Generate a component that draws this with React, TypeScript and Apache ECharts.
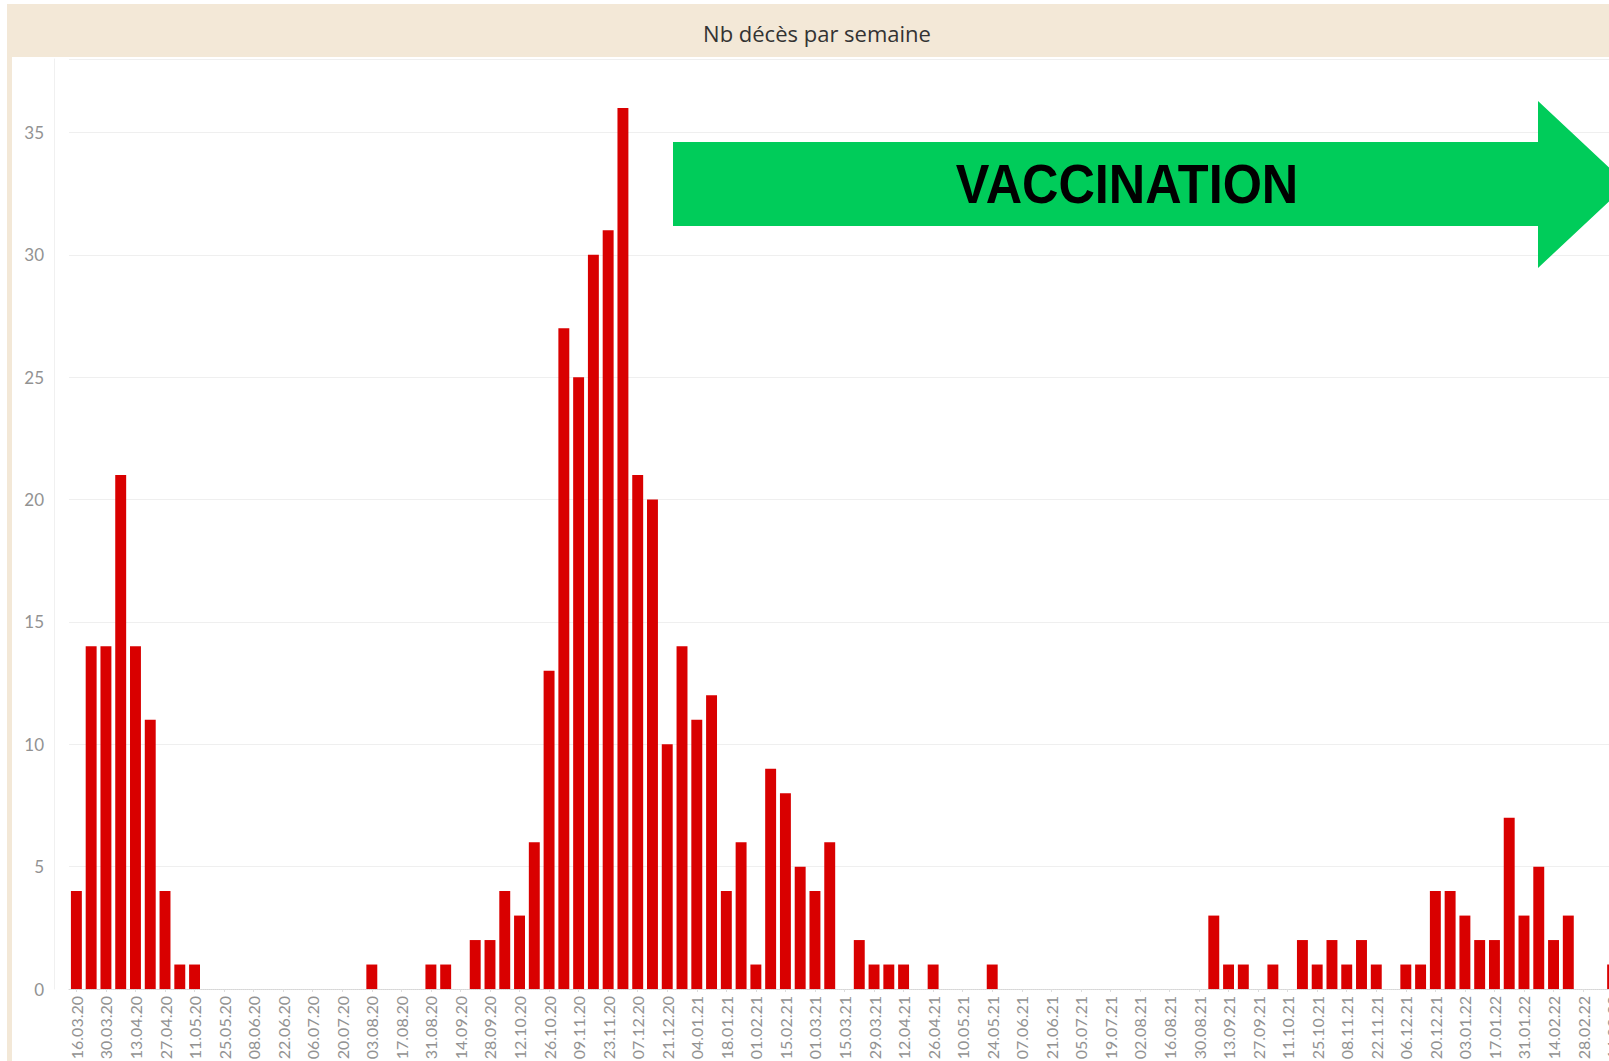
import React, { useEffect, useRef } from "react";
import * as echarts from "echarts";

const categories = [
  "16.03.20", "23.03.20", "30.03.20", "06.04.20", "13.04.20", "20.04.20", "27.04.20", "04.05.20",
  "11.05.20", "18.05.20", "25.05.20", "01.06.20", "08.06.20", "15.06.20", "22.06.20", "29.06.20",
  "06.07.20", "13.07.20", "20.07.20", "27.07.20", "03.08.20", "10.08.20", "17.08.20", "24.08.20",
  "31.08.20", "07.09.20", "14.09.20", "21.09.20", "28.09.20", "05.10.20", "12.10.20", "19.10.20",
  "26.10.20", "02.11.20", "09.11.20", "16.11.20", "23.11.20", "30.11.20", "07.12.20", "14.12.20",
  "21.12.20", "28.12.20", "04.01.21", "11.01.21", "18.01.21", "25.01.21", "01.02.21", "08.02.21",
  "15.02.21", "22.02.21", "01.03.21", "08.03.21", "15.03.21", "22.03.21", "29.03.21", "05.04.21",
  "12.04.21", "19.04.21", "26.04.21", "03.05.21", "10.05.21", "17.05.21", "24.05.21", "31.05.21",
  "07.06.21", "14.06.21", "21.06.21", "28.06.21", "05.07.21", "12.07.21", "19.07.21", "26.07.21",
  "02.08.21", "09.08.21", "16.08.21", "23.08.21", "30.08.21", "06.09.21", "13.09.21", "20.09.21",
  "27.09.21", "04.10.21", "11.10.21", "18.10.21", "25.10.21", "01.11.21", "08.11.21", "15.11.21",
  "22.11.21", "29.11.21", "06.12.21", "13.12.21", "20.12.21", "27.12.21", "03.01.22", "10.01.22",
  "17.01.22", "24.01.22", "31.01.22", "07.02.22", "14.02.22", "21.02.22", "28.02.22", "07.03.22",
  "14.03.22",
];

const deaths = [
  4, 14, 14, 21, 14, 11, 4, 1,
  1, 0, 0, 0, 0, 0, 0, 0,
  0, 0, 0, 0, 1, 0, 0, 0,
  1, 1, 0, 2, 2, 4, 3, 6,
  13, 27, 25, 30, 31, 36, 21, 20,
  10, 14, 11, 12, 4, 6, 1, 9,
  8, 5, 4, 6, 0, 2, 1, 1,
  1, 0, 1, 0, 0, 0, 1, 0,
  0, 0, 0, 0, 0, 0, 0, 0,
  0, 0, 0, 0, 0, 3, 1, 1,
  0, 1, 0, 2, 1, 2, 1, 2,
  1, 0, 1, 1, 4, 4, 3, 2,
  2, 7, 3, 5, 2, 3, 0, 0,
  1,
];

const titleText = "Nb décès par semaine";
const arrowText = "VACCINATION";

export default function App() {
  const ref = useRef<HTMLDivElement>(null);

  useEffect(() => {
    const chart = echarts.init(ref.current!, null, { renderer: "svg" });
    const labelEvery = (i: number) => i % 2 === 0;
    chart.setOption({
      animation: false,
      backgroundColor: "#ffffff",
      grid: { left: 69, top: 59, width: 1551, height: 930, containLabel: false },
      xAxis: {
        type: "category",
        data: categories,
        boundaryGap: true,
        axisLine: { show: true, lineStyle: { color: "#d6d6d6", type: "dotted", width: 1 } },
        axisTick: { show: true, interval: labelEvery, alignWithLabel: true, length: 3, lineStyle: { color: "#dddddd" } },
        axisLabel: {
          interval: labelEvery,
          rotate: 90,
          margin: 7,
          fontSize: 16,
          color: "#929292",
          fontFamily: "Lato",
        },
        splitLine: { show: false },
      },
      yAxis: {
        type: "value",
        min: 0,
        max: 38,
        interval: 5,
        offset: 15,
        axisLine: { show: true, lineStyle: { color: "#f0f0f0" } },
        axisTick: { show: false },
        axisLabel: { showMaxLabel: false, margin: 10, fontSize: 17, color: "#929292", fontFamily: "Lato" },
        splitLine: { show: true, lineStyle: { color: "#efefef", width: 1 } },
      },
      series: [
        {
          type: "bar",
          data: deaths,
          barCategoryGap: "26%",
          itemStyle: { color: "#d90000" },
        },
      ],
      graphic: [
        { type: "rect", shape: { x: 7, y: 4, width: 1700, height: 53 }, style: { fill: "#f3e8d7" }, z: 0 },
        { type: "rect", shape: { x: 7, y: 4, width: 5, height: 1100 }, style: { fill: "#f3e8d7" }, z: 0 },
        {
          type: "text",
          x: 817,
          y: 33,
          style: {
            text: titleText,
            fill: "#333333",
            font: "22px 'Open Sans'",
            textAlign: "center",
            textVerticalAlign: "middle",
          },
          z: 5,
        },
        {
          type: "polygon",
          shape: {
            points: [
              [673, 142], [1538, 142], [1538, 101], [1627, 184.5],
              [1538, 268], [1538, 226], [673, 226],
            ],
          },
          style: { fill: "#00cc5a" },
          z: 10,
        },
        {
          type: "text",
          x: 1127,
          y: 184,
          scaleX: 0.9,
          style: {
            text: arrowText,
            fill: "#000000",
            font: "bold 56px 'Liberation Sans'",
            textAlign: "center",
            textVerticalAlign: "middle",
          },
          z: 11,
        },
      ],
    });
    return () => chart.dispose();
  }, []);

  return (
    <div
      style={{
        position: "fixed",
        left: 0,
        top: 0,
        width: 1609,
        height: 1061,
        overflow: "hidden",
        background: "#ffffff",
      }}
    >
      <div ref={ref} style={{ width: 1660, height: 1100 }} />
    </div>
  );
}
